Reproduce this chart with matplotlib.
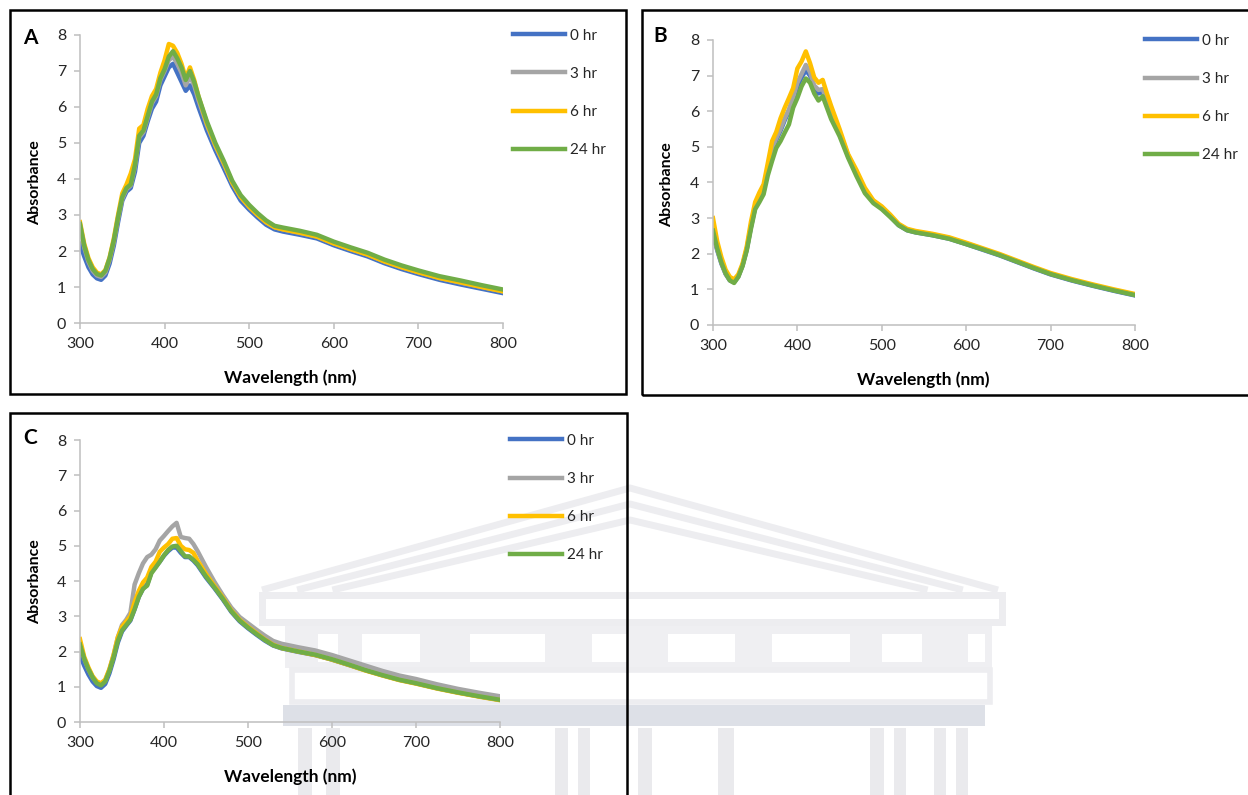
import matplotlib
matplotlib.use("Agg")
import matplotlib.pyplot as plt
from matplotlib.patches import Rectangle
from matplotlib.lines import Line2D

plt.rcParams['font.family'] = ['Lato', 'DejaVu Sans']

# wavelength grid (nm)
wl = [300, 305, 310, 315, 320, 325, 330, 335, 340, 345, 350, 355, 360, 365, 370,
      375, 380, 385, 390, 395, 400, 405, 410, 415, 420, 425, 430, 435, 440, 450,
      460, 470, 480, 490, 500, 510, 520, 530, 540, 560, 580, 600, 620, 640, 660,
      680, 700, 725, 750, 775, 800]

times = ['0 hr', '3 hr', '6 hr', '24 hr']
colors = ['#4472C4', '#A5A5A5', '#FFC000', '#70AD47']

# panel A
a_0 = [2.2, 1.85, 1.55, 1.35, 1.24, 1.2, 1.32, 1.65, 2.15, 2.8, 3.4, 3.65, 3.75, 4.2, 5.0,
       5.2, 5.6, 5.95, 6.15, 6.6, 6.85, 7.1, 7.2, 6.95, 6.7, 6.45, 6.6, 6.35, 6.0, 5.35,
       4.8, 4.3, 3.8, 3.4, 3.15, 2.93, 2.73, 2.6, 2.54, 2.45, 2.35, 2.16, 2.0, 1.85, 1.66,
       1.5, 1.36, 1.2, 1.07, 0.95, 0.83]
a_3 = [2.7, 2.1, 1.7, 1.45, 1.32, 1.28, 1.4, 1.75, 2.25, 2.9, 3.45, 3.72, 3.82, 4.35, 5.15,
       5.3, 5.7, 6.1, 6.3, 6.75, 7.0, 7.3, 7.4, 7.2, 6.95, 6.6, 6.85, 6.6, 6.2, 5.5,
       4.92, 4.42, 3.9, 3.5, 3.22, 3.0, 2.8, 2.66, 2.6, 2.5, 2.4, 2.21, 2.05, 1.9, 1.71,
       1.55, 1.41, 1.25, 1.12, 1.0, 0.88]
a_6 = [2.8, 2.2, 1.8, 1.55, 1.4, 1.35, 1.47, 1.82, 2.35, 3.0, 3.6, 3.85, 4.15, 4.55, 5.4,
       5.5, 5.95, 6.3, 6.5, 6.95, 7.3, 7.75, 7.7, 7.5, 7.2, 6.8, 7.1, 6.75, 6.3, 5.55,
       4.95, 4.45, 3.9, 3.5, 3.23, 3.0, 2.8, 2.66, 2.6, 2.51, 2.4, 2.21, 2.05, 1.9, 1.71,
       1.55, 1.41, 1.25, 1.13, 1.0, 0.88]
a_24 = [2.75, 2.15, 1.75, 1.5, 1.36, 1.32, 1.45, 1.8, 2.3, 2.94, 3.5, 3.75, 3.85, 4.4, 5.2,
        5.35, 5.75, 6.15, 6.35, 6.8, 7.05, 7.4, 7.55, 7.35, 7.1, 6.75, 7.0, 6.7, 6.3, 5.6,
        5.0, 4.5, 3.95, 3.55, 3.28, 3.05, 2.85, 2.7, 2.65, 2.56, 2.45, 2.26, 2.1, 1.95, 1.76,
        1.6, 1.46, 1.3, 1.18, 1.05, 0.93]

# panel B
b_0 = [2.55, 2.1, 1.72, 1.43, 1.25, 1.2, 1.36, 1.67, 2.12, 2.75, 3.3, 3.55, 3.75, 4.35, 4.9,
       5.2, 5.45, 5.75, 6.0, 6.35, 6.7, 6.95, 7.15, 7.0, 6.65, 6.5, 6.55, 6.25, 5.9, 5.38,
       4.75, 4.25, 3.78, 3.46, 3.28, 3.05, 2.8, 2.66, 2.6, 2.52, 2.42, 2.27, 2.11, 1.95, 1.77,
       1.59, 1.42, 1.25, 1.1, 0.96, 0.83]
b_3 = [2.6, 2.12, 1.74, 1.44, 1.26, 1.21, 1.37, 1.68, 2.14, 2.78, 3.33, 3.58, 3.78, 4.38, 4.95,
       5.25, 5.5, 5.8, 6.05, 6.4, 6.8, 7.05, 7.3, 7.1, 6.72, 6.6, 6.62, 6.3, 5.95, 5.42,
       4.77, 4.28, 3.8, 3.48, 3.3, 3.07, 2.82, 2.68, 2.62, 2.54, 2.44, 2.29, 2.13, 1.97, 1.79,
       1.61, 1.44, 1.27, 1.12, 0.98, 0.85]
b_6 = [3.0, 2.35, 1.9, 1.55, 1.35, 1.28, 1.42, 1.72, 2.2, 2.9, 3.45, 3.72, 3.95, 4.55, 5.16,
       5.42, 5.8, 6.1, 6.37, 6.65, 7.2, 7.4, 7.68, 7.35, 6.95, 6.8, 6.88, 6.5, 6.15, 5.5,
       4.8, 4.35, 3.85, 3.5, 3.33, 3.1, 2.84, 2.7, 2.64, 2.56, 2.46, 2.31, 2.15, 1.99, 1.81,
       1.63, 1.46, 1.29, 1.14, 1.0, 0.87]
b_24 = [2.65, 2.15, 1.75, 1.45, 1.25, 1.18, 1.35, 1.65, 2.09, 2.7, 3.25, 3.45, 3.67, 4.2, 4.6,
        4.97, 5.16, 5.4, 5.63, 6.1, 6.37, 6.7, 6.92, 6.8, 6.5, 6.3, 6.42, 6.1, 5.78, 5.3,
        4.7, 4.18, 3.7, 3.42, 3.25, 3.03, 2.8, 2.66, 2.6, 2.52, 2.42, 2.27, 2.12, 1.96, 1.78,
        1.6, 1.43, 1.26, 1.11, 0.97, 0.84]

# panel C
c_0 = [1.9, 1.6, 1.35, 1.15, 1.02, 0.97, 1.08, 1.38, 1.78, 2.25, 2.57, 2.73, 2.88, 3.2, 3.55,
       3.78, 3.9, 4.25, 4.4, 4.55, 4.72, 4.85, 4.95, 4.95, 4.8, 4.68, 4.68, 4.58, 4.45, 4.1,
       3.8, 3.48, 3.13, 2.86, 2.66, 2.48, 2.31, 2.17, 2.09, 1.99, 1.9, 1.77, 1.62, 1.47, 1.33,
       1.2, 1.1, 0.96, 0.84, 0.73, 0.63]
c_3 = [2.25, 1.8, 1.5, 1.27, 1.12, 1.07, 1.17, 1.48, 1.9, 2.4, 2.75, 2.9, 3.1, 3.9, 4.22,
       4.5, 4.68, 4.75, 4.9, 5.15, 5.28, 5.42, 5.55, 5.65, 5.25, 5.22, 5.2, 5.05, 4.85, 4.4,
       3.98, 3.6, 3.25, 2.98, 2.8, 2.62, 2.45, 2.3, 2.22, 2.12, 2.03, 1.9, 1.75, 1.6, 1.45,
       1.32, 1.22, 1.07, 0.94, 0.83, 0.73]
c_6 = [2.35, 1.85, 1.55, 1.3, 1.15, 1.1, 1.2, 1.5, 1.9, 2.4, 2.7, 2.85, 3.0, 3.4, 3.72,
       3.96, 4.1, 4.4, 4.55, 4.83, 4.95, 5.05, 5.2, 5.22, 5.0, 4.9, 4.88, 4.8, 4.58, 4.2,
       3.86, 3.53, 3.17, 2.9, 2.7, 2.52, 2.34, 2.19, 2.1, 2.0, 1.9, 1.77, 1.62, 1.46, 1.32,
       1.19, 1.09, 0.95, 0.83, 0.72, 0.62]
c_24 = [2.2, 1.8, 1.5, 1.27, 1.1, 1.04, 1.15, 1.45, 1.84, 2.3, 2.6, 2.75, 2.9, 3.2, 3.55,
        3.78, 3.87, 4.22, 4.38, 4.55, 4.73, 4.88, 4.98, 5.0, 4.85, 4.7, 4.7, 4.6, 4.48, 4.13,
        3.82, 3.5, 3.15, 2.88, 2.68, 2.5, 2.33, 2.18, 2.1, 2.0, 1.91, 1.78, 1.63, 1.47, 1.33,
        1.2, 1.1, 0.96, 0.84, 0.73, 0.63]

panels = [
    ('A', [a_0, a_3, a_6, a_24], [0.0641, 0.5937, 0.3389, 0.3623]),
    ('B', [b_0, b_3, b_6, b_24], [0.5713, 0.5912, 0.3381, 0.3585]),
    ('C', [c_0, c_3, c_6, c_24], [0.0641, 0.0918, 0.3365, 0.3547]),
]

fig = plt.figure(figsize=(12.48, 7.95), dpi=100)
W, H = 1248, 795


def px_rect(x0, y0, x1, y1, **kw):
    # rectangle given in image pixels (y down)
    fig.patches.append(Rectangle((x0 / W, 1 - y1 / H), (x1 - x0) / W, (y1 - y0) / H,
                                 transform=fig.transFigure, **kw))


def px_line(xs, ys, **kw):
    fig.lines.append(Line2D([x / W for x in xs], [1 - y / H for y in ys],
                            transform=fig.transFigure, **kw))


# faint building watermark behind the lower panel
wm = '#EDEDF0'
for off in [0, 16, 32]:
    px_line([262 + off * 2.2, 630, 998 - off * 2.2], [590, 488 + off, 590],
            color=wm, lw=5, zorder=-5, solid_capstyle='butt')
px_rect(262, 595, 1002, 622, fill=False, edgecolor=wm, lw=5, zorder=-5)
px_rect(285, 626, 992, 668, facecolor='#EFEFF2', edgecolor='none', zorder=-5)
for x0, x1 in [(318, 338), (362, 420), (470, 545), (592, 628), (668, 735),
               (772, 850), (882, 922), (968, 985)]:
    px_rect(x0, 634, x1, 662, facecolor='white', edgecolor='none', zorder=-4)
px_rect(292, 670, 990, 702, fill=False, edgecolor=wm, lw=4, zorder=-5)
px_rect(283, 705, 985, 726, facecolor='#DDE0E7', edgecolor='none', zorder=-5)
for x0, x1 in [(298, 312), (326, 340), (555, 568), (578, 590), (638, 652),
               (718, 734), (870, 884), (894, 906), (934, 946), (956, 968)]:
    px_rect(x0, 728, x1, 800, facecolor='#EAEAED', edgecolor='none', zorder=-5)

# black frames round each panel
for x0, y0, x1, y1 in [(10, 10, 626, 394), (642, 10, 1260, 395), (10, 413, 627, 805)]:
    px_rect(x0, y0, x1, y1, fill=False, edgecolor='black', linewidth=1.8, zorder=0)

axgrey = '#BFBFBF'
txt = '#262626'

label_pos = {
    'A': dict(letter=(30, 38), ylab=(35, 183), xlab=(290, 378)),
    'B': dict(letter=(660, 36), ylab=(667, 185), xlab=(923, 380)),
    'C': dict(letter=(30, 438), ylab=(35, 582), xlab=(290, 777)),
}

for name, series, rect in panels:
    ax = fig.add_axes(rect)
    ax.set_facecolor('none')
    for lab, ys, c in zip(times, series, colors):
        ax.plot(wl, ys, color=c, lw=3.2, label=lab, solid_joinstyle='round')
    ax.set_xlim(300, 800)
    ax.set_ylim(0, 8)
    ax.set_xticks([300, 400, 500, 600, 700, 800])
    ax.set_yticks(range(0, 9))
    for s in ['top', 'right']:
        ax.spines[s].set_visible(False)
    for s in ['left', 'bottom']:
        ax.spines[s].set_color(axgrey)
        ax.spines[s].set_linewidth(1.1)
    ax.tick_params(direction='out', length=4, width=1.1, color=axgrey,
                   labelsize=11.5, labelcolor=txt, pad=6)
    ax.legend(loc='upper left', bbox_to_anchor=(1.024, 1.022), frameon=False,
              fontsize=11, handlelength=3.4, handletextpad=0.3,
              labelspacing=1.58, borderpad=0, borderaxespad=0, labelcolor=txt)

    p = label_pos[name]
    fig.text(p['letter'][0] / W, 1 - p['letter'][1] / H, name, fontsize=15,
             fontweight='bold', ha='center', va='center')
    fig.text(p['ylab'][0] / W, 1 - p['ylab'][1] / H, 'Absorbance', fontsize=11.5,
             fontweight='bold', rotation=90, ha='center', va='center')
    fig.text(p['xlab'][0] / W, 1 - p['xlab'][1] / H, 'Wavelength (nm)', fontsize=12.5,
             fontweight='bold', ha='center', va='center')

fig.savefig('out.png', dpi=100)
